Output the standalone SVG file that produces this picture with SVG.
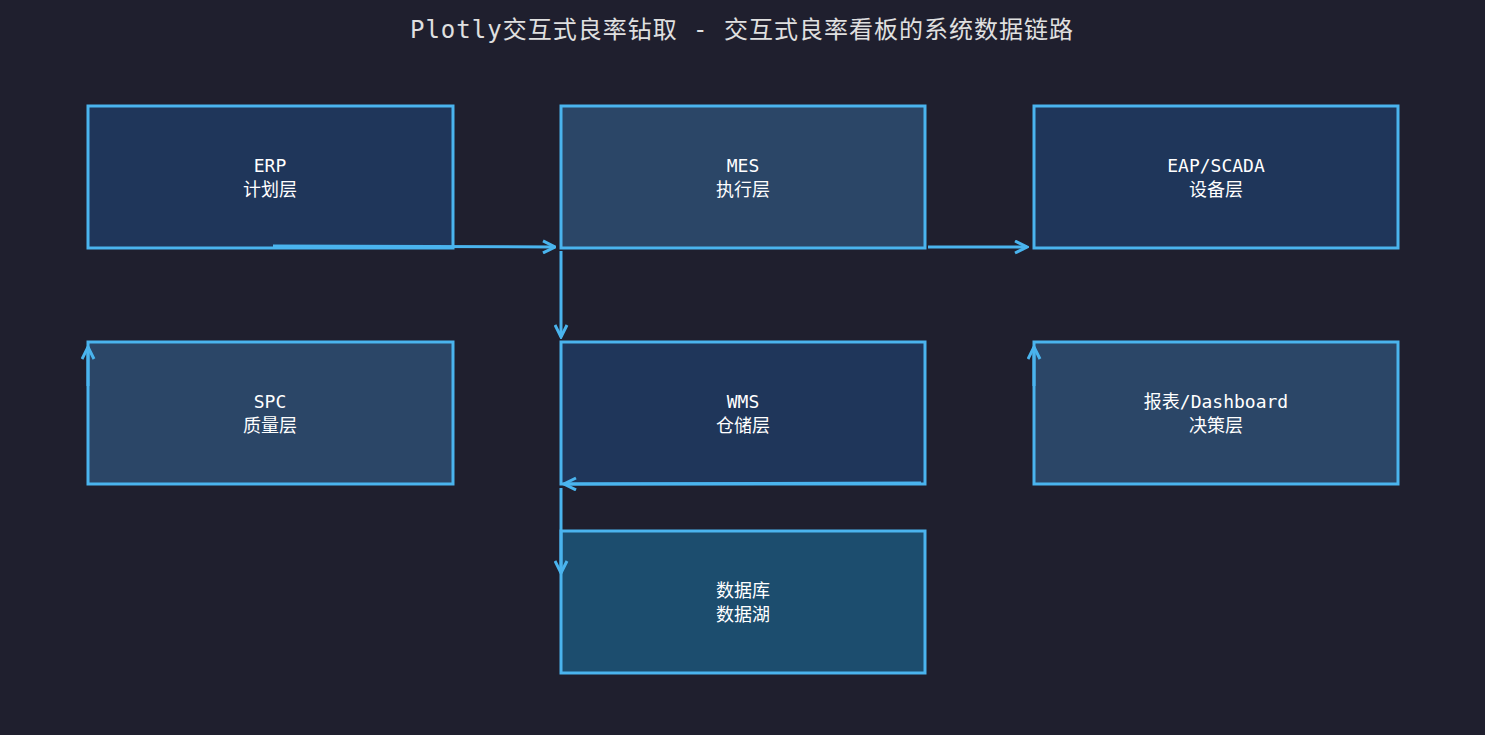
<svg xmlns="http://www.w3.org/2000/svg" width="1485" height="735" viewBox="0 0 1485 735">
<style>
.n{stroke:#4ab4ee;stroke-width:3}
.a{fill:#1f365a}.b{fill:#2b4667}.c{fill:#1c4d6e}
text{font-family:"DejaVu Sans Mono","Noto Sans CJK SC",monospace;fill:#ffffff;font-size:18px;text-anchor:middle}
.t{font-size:24px;fill:#e0e0e0;letter-spacing:1px}
.e{stroke:#4ab4ee;stroke-width:3;fill:none;marker-end:url(#ah)}
</style>
<defs><marker id="ah" viewBox="0 0 10 10" refX="9" refY="5" markerWidth="5" markerHeight="5" orient="auto" markerUnits="strokeWidth"><path d="M1 1L9 5L1 9" fill="none" stroke="#4ab4ee" stroke-width="2"/></marker></defs>
<rect width="1485" height="735" fill="#1f1f2e"/>
<text class="t" x="742" y="38">Plotly交互式良率钻取 - 交互式良率看板的系统数据链路</text>
<g id="erp"><rect class="n a" x="88" y="106" width="365" height="142"/><text x="270" y="172">ERP</text><text x="270" y="196">计划层</text></g>
<g id="mes"><rect class="n b" x="561" y="106" width="364" height="142"/><text x="743" y="172">MES</text><text x="743" y="196">执行层</text></g>
<g id="eap"><rect class="n a" x="1034" y="106" width="364" height="142"/><text x="1216" y="172">EAP/SCADA</text><text x="1216" y="196">设备层</text></g>
<g id="spc"><rect class="n b" x="88" y="342" width="365" height="142"/><text x="270" y="408">SPC</text><text x="270" y="432">质量层</text></g>
<g id="wms"><rect class="n a" x="561" y="342" width="364" height="142"/><text x="743" y="408">WMS</text><text x="743" y="432">仓储层</text></g>
<g id="dash"><rect class="n b" x="1034" y="342" width="364" height="142"/><text x="1216" y="408">报表/Dashboard</text><text x="1216" y="432">决策层</text></g>
<g id="db"><rect class="n c" x="561" y="531" width="364" height="142"/><text x="743" y="597">数据库</text><text x="743" y="621">数据湖</text></g>
<g id="edges">
<path class="e" d="M273 246L555 247"/>
<path class="e" d="M561 251L561 337"/>
<path class="e" d="M928 247L1027 247"/>
<path class="e" d="M88 386L88 347"/>
<path class="e" d="M1034 386L1034 347"/>
<path class="e" d="M921 483L564 484"/>
<path class="e" d="M561 488L561 573"/>
</g>
</svg>
